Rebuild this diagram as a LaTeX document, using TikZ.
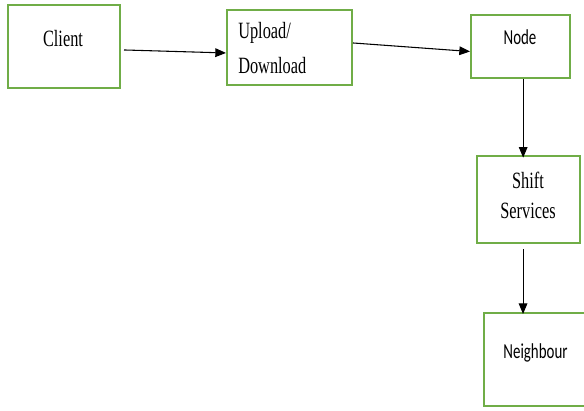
\documentclass[tikz,border=0pt]{standalone}
\usepackage{fontspec}
\setmainfont{Liberation Serif}[FakeStretch=0.7]
\newfontfamily\calibri{Carlito}[FakeStretch=0.7]
\usetikzlibrary{arrows.meta}
\definecolor{boxgreen}{RGB}{112,173,71}

\begin{document}
\begin{tikzpicture}[x=0.75pt,y=-0.75pt,>={Triangle[length=8pt,width=6.5pt]},
  box/.style={draw=boxgreen,line width=1.5pt,inner sep=0pt},
  lbl/.style={inner sep=0pt,font=\fontsize{17.5}{22}\selectfont},
  sanslbl/.style={inner sep=0pt,font=\calibri\fontsize{16}{18}\selectfont},
  flow/.style={->,line width=0.8pt}]
  \useasboundingbox (0,0) rectangle (584,410);

  \node [box,minimum width=84pt,minimum height=62.25pt] (client) at (64,46.5) {};
  \node [box,minimum width=93.75pt,minimum height=56.25pt] (updown) at (289.5,47.5) {};
  \node [box,minimum width=74.25pt,minimum height=47.25pt] (node) at (520.5,46.5) {};
  \node [box,minimum width=77.25pt,minimum height=65.25pt] (shift) at (528.5,199.5) {};
  \node [box,minimum width=75.75pt,minimum height=69.75pt] (neigh) at (534.5,359.5) {};

  \node [lbl,anchor=base] (clientlbl) at (63,47) {Client};
  \node [lbl,anchor=base west,align=left,font=\fontsize{17.5}{26.25}\selectfont] (updownlbl) at (238,74) {Upload/\\Download};
  \node [sanslbl,anchor=base] (nodelbl) at (520,45) {Node};
  \node [lbl,anchor=base,align=center,font=\fontsize{17.5}{22.5}\selectfont] (shiftlbl) at (528,218) {Shift\\Services};
  \node [sanslbl,anchor=base] (neighlbl) at (535.5,358) {Neighbour};

  \draw [flow] ([xshift=2.25pt,yshift=-2.6pt]client.east) -- ([yshift=-4.1pt]updown.west);
  \draw [flow] ([yshift=3.4pt]updown.east) -- ([yshift=-3.75pt]node.west);
  \draw [flow] ([xshift=2pt]node.south) -- ([xshift=2pt,yshift=-2pt]node.south |- shift.north);
  \draw [flow] ([xshift=-4.1pt,yshift=-3.75pt]shift.south) -- ([xshift=-4.1pt,yshift=-1.5pt]shift.south |- neigh.north);
\end{tikzpicture}
\end{document}
